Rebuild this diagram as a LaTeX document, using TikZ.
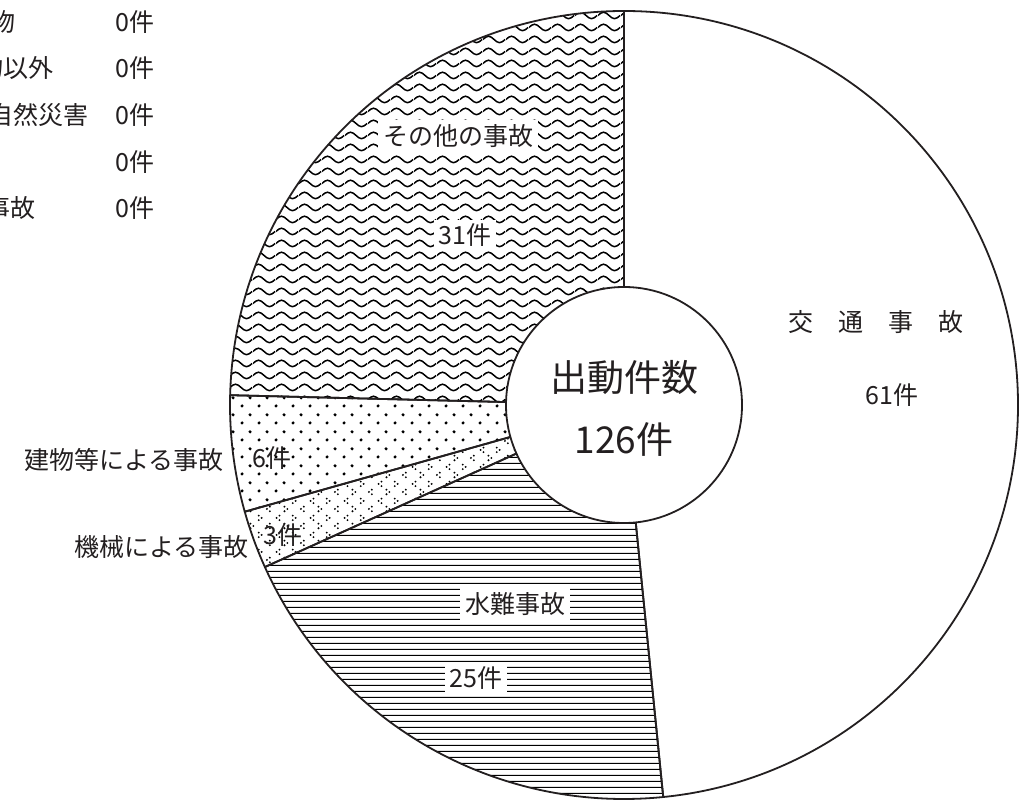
\documentclass[tikz,border=0pt]{standalone}
\usepackage{fontspec}
\setmainfont{Noto Sans CJK JP}
\usetikzlibrary{patterns}

\pgfdeclarepatternformonly{hwaves}{\pgfpointorigin}{\pgfpoint{23pt}{12pt}}{\pgfpoint{23pt}{12pt}}{%
  \pgfsetlinewidth{1.6pt}%
  \pgfpathmoveto{\pgfpoint{0pt}{6pt}}%
  \pgfpathsine{\pgfpoint{5.75pt}{3.5pt}}%
  \pgfpathcosine{\pgfpoint{5.75pt}{-3.5pt}}%
  \pgfpathsine{\pgfpoint{5.75pt}{-3.5pt}}%
  \pgfpathcosine{\pgfpoint{5.75pt}{3.5pt}}%
  \pgfusepath{stroke}}

\pgfdeclarepatternformonly{sdots}{\pgfpointorigin}{\pgfpoint{17pt}{17pt}}{\pgfpoint{17pt}{17pt}}{%
  \pgfpathcircle{\pgfpoint{4.25pt}{4.25pt}}{1.8pt}%
  \pgfpathcircle{\pgfpoint{12.75pt}{12.75pt}}{1.8pt}%
  \pgfusepath{fill}}

\newcommand{\ltchev}[2]{%
  \pgfpathcircle{\pgfpoint{#1pt+1.7pt}{#2pt+2.4pt}}{1.1pt}%
  \pgfpathcircle{\pgfpoint{#1pt-1.3pt}{#2pt}}{1.1pt}%
  \pgfpathcircle{\pgfpoint{#1pt+1.7pt}{#2pt-2.4pt}}{1.1pt}}
\newcommand{\gtchev}[2]{%
  \pgfpathcircle{\pgfpoint{#1pt-1.7pt}{#2pt+2.4pt}}{1.1pt}%
  \pgfpathcircle{\pgfpoint{#1pt+1.3pt}{#2pt}}{1.1pt}%
  \pgfpathcircle{\pgfpoint{#1pt-1.7pt}{#2pt-2.4pt}}{1.1pt}}

\pgfdeclarepatternformonly{chevs}{\pgfpointorigin}{\pgfpoint{34pt}{17pt}}{\pgfpoint{34pt}{17pt}}{%
  \ltchev{6}{12.75}\gtchev{23}{12.75}%
  \gtchev{14.5}{4.25}\ltchev{31}{4.25}%
  \pgfusepath{fill}}

\pgfdeclarepatternformonly{hlines}{\pgfpointorigin}{\pgfpoint{10pt}{6pt}}{\pgfpoint{10pt}{6pt}}{%
  \pgfsetlinewidth{1.3pt}%
  \pgfpathmoveto{\pgfpoint{-1pt}{3pt}}%
  \pgfpathlineto{\pgfpoint{11pt}{3pt}}%
  \pgfusepath{stroke}}

\definecolor{ink}{HTML}{231F20}

\begin{document}
\begin{tikzpicture}[x=1pt,y=1pt,
  sector/.style={draw=ink,line width=1.8pt,line join=round},
  lab/.style={text=ink,font=\fontsize{25}{25}\selectfont,inner sep=0pt},
  wlab/.style={lab,fill=white,inner xsep=5pt,inner ysep=4pt},
  big/.style={text=ink,font=\fontsize{37}{37}\selectfont,inner sep=0pt}]
\useasboundingbox (0,0) rectangle (1022,801);
\fill[white] (0,0) rectangle (1022,801);
\coordinate (C) at (624,396);

% sectors
\draw[sector,fill=white] (C) -- ++(90:394pt) arc[start angle=90,end angle=-84.2857,radius=394pt] -- cycle;
\draw[sector,pattern=hlines] (C) -- ++(-84.2857:394pt) arc[start angle=-84.2857,end angle=-155.7143,radius=394pt] -- cycle;
\draw[sector,pattern=chevs] (C) -- ++(-155.7143:394pt) arc[start angle=-155.7143,end angle=-164.2857,radius=394pt] -- cycle;
\draw[sector,pattern=sdots] (C) -- ++(-164.2857:394pt) arc[start angle=-164.2857,end angle=-181.4286,radius=394pt] -- cycle;
\draw[sector,pattern=hwaves] (C) -- ++(-181.4286:394pt) arc[start angle=-181.4286,end angle=-270,radius=394pt] -- cycle;

% centre circle
\node[circle,draw=ink,line width=1.8pt,fill=white,minimum size=236pt,inner sep=0pt] (hub) at (C) {};
\node[big] (hubA) at (624,423) {出動件数};
\node[big] (hubB) at (624,361) {126件};

% slice labels
\node[wlab] (otherA) at (458,665) {その他の事故};
\node[wlab] (otherB) at (465,566) {31件};
\node[lab] (trafA) at (876,479) {交　通　事　故};
\node[lab] (trafB) at (892,406) {61件};
\node[wlab] (waterA) at (515,197) {水難事故};
\node[wlab] (waterB) at (476,123) {25件};
\node[lab,anchor=east] (bldA) at (224,341) {建物等による事故};
\node[lab] (bldB) at (272,343) {6件};
\node[lab,anchor=east] (machA) at (249,254) {機械による事故};
\node[lab] (machB) at (283,266) {3件};

% legend (cut at the left edge, as in the reference)
\node[lab,anchor=east] (leg1) at (16,779) {物};
\node[lab,anchor=east] (leg2) at (54,733) {物以外};
\node[lab,anchor=east] (leg3) at (89,686) {自然災害};
\node[lab,anchor=east] (leg5) at (36,593) {事故};
\node[lab,anchor=west] (val1) at (115,779) {0件};
\node[lab,anchor=west] (val2) at (115,733) {0件};
\node[lab,anchor=west] (val3) at (115,686) {0件};
\node[lab,anchor=west] (val4) at (115,639) {0件};
\node[lab,anchor=west] (val5) at (115,593) {0件};
\end{tikzpicture}
\end{document}
